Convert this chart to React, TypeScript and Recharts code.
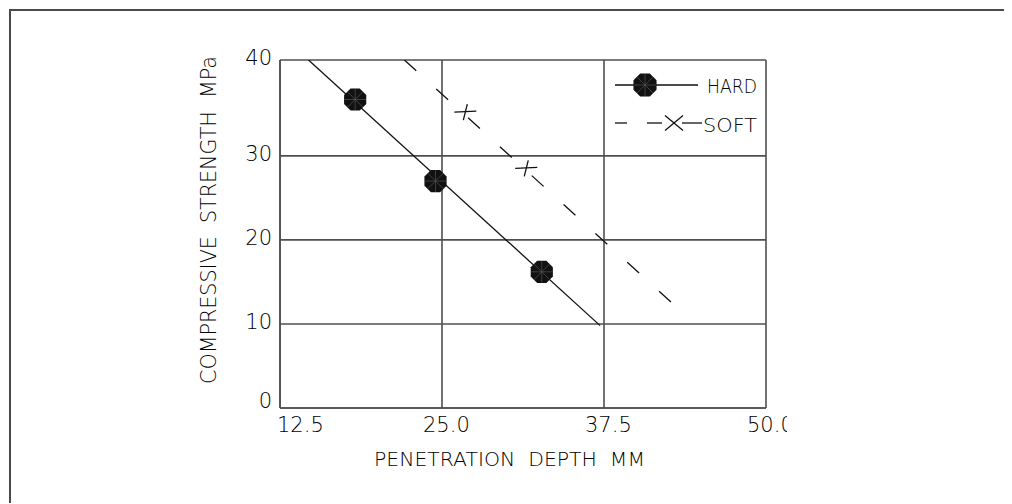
import { CartesianGrid, Scatter, ScatterChart, XAxis, YAxis } from 'recharts'

// measured hard / soft test points (penetration mm, strength MPa)
const hardX = [18.3, 24.5, 32.7]
const hardY = [36.7, 27.0, 16.2]
const hardFitX = [14.7, 37.2]
const hardFitY = [41.4, 9.8]

const softX = [26.8, 31.5]
const softY = [35.2, 28.5]
const softFitX = [22.1, 43.1]
const softFitY = [41.4, 12.0]

const xTicks = [12.5, 25, 37.5, 50]
const xTickLabels = ['12.5', '25.0', '37.5', '50.0']
const yTicks = [0, 10, 20, 30, 41.4]
const yTickLabels = ['0', '10', '20', '30', '40']

const xTitle = 'PENETRATION  DEPTH  MM'
const yTitle = 'COMPRESSIVE  STRENGTH  MPa'

const toPoints = (xs: number[], ys: number[]) => xs.map((x, i) => ({ x, y: ys[i] }))

const hardPoints = toPoints(hardX, hardY)
const hardFit = toPoints(hardFitX, hardFitY)
const softPoints = toPoints(softX, softY)
const softFit = toPoints(softFitX, softFitY)

const W = 1001
const H = 493
const FONT = 'DejaVu Sans'
const WEIGHT = 300
const INK = '#000'
const GRID = '#4f4f4f'

function Octagon({ cx, cy, r = 12 }: { cx: number; cy: number; r?: number }) {
  const pts = Array.from({ length: 8 }, (_, i) => {
    const a = (Math.PI / 8) * (2 * i + 1)
    return `${cx + r * Math.cos(a)},${cy + r * Math.sin(a)}`
  }).join(' ')
  const spokes = Array.from({ length: 4 }, (_, i) => {
    const a = (Math.PI / 4) * i
    return (
      <line
        key={i}
        x1={cx - r * 0.9 * Math.cos(a)}
        y1={cy - r * 0.9 * Math.sin(a)}
        x2={cx + r * 0.9 * Math.cos(a)}
        y2={cy + r * 0.9 * Math.sin(a)}
        stroke="#555"
        strokeWidth={0.7}
      />
    )
  })
  return (
    <g>
      <polygon points={pts} fill="#111" />
      {spokes}
    </g>
  )
}

function Cross({ cx, cy }: { cx: number; cy: number }) {
  return (
    <g stroke="#111" strokeWidth={1.3}>
      <line x1={cx - 11} y1={cy} x2={cx + 11} y2={cy - 1} />
      <line x1={cx - 2} y1={cy + 8} x2={cx + 2} y2={cy - 8} />
    </g>
  )
}

const XTick = (props: any) => {
  const { x, y, payload } = props
  const i = xTicks.indexOf(payload.value)
  const dx = i === 0 ? -3 : -19
  return (
    <g>
      <defs>
        <clipPath id="xtick-clip">
          <rect x={0} y={0} width={776} height={H} />
        </clipPath>
      </defs>
      <text
        x={x + dx}
        y={y + 24}
        textAnchor="start"
        fontFamily={FONT}
        fontWeight={WEIGHT}
        fontSize={21}
        fill={INK}
        clipPath="url(#xtick-clip)"
      >
        {xTickLabels[i]}
      </text>
    </g>
  )
}

const YTick = (props: any) => {
  const { x, y, payload } = props
  const i = yTicks.indexOf(payload.value)
  const dy = i === 0 ? -7 : -2
  return (
    <text
      x={x - 8}
      y={y + dy}
      textAnchor="end"
      dominantBaseline="central"
      fontFamily={FONT}
      fontWeight={WEIGHT}
      fontSize={21}
      fill={INK}
    >
      {yTickLabels[i]}
    </text>
  )
}

function LegendOverlay() {
  return (
    <svg
      width={W}
      height={H}
      style={{ position: 'absolute', left: 0, top: 0, pointerEvents: 'none' }}
    >
      <g stroke="#111" strokeWidth={1.3}>
        <line x1={604} y1={74} x2={687} y2={74} />
        <line x1={604} y1={112} x2={616} y2={112} />
        <line x1={636} y1={112} x2={651} y2={112} />
        <line x1={671} y1={112} x2={691} y2={112} />
        <line x1={654} y1={104.5} x2={672} y2={119.5} />
        <line x1={654} y1={119.5} x2={672} y2={104.5} />
      </g>
      <Octagon cx={634} cy={74} r={12.5} />
      <text x={696} y={82} fontFamily={FONT} fontWeight={WEIGHT} fontSize={20} fill={INK} textLength={50} lengthAdjust="spacingAndGlyphs">
        HARD
      </text>
      <text x={692} y={121} fontFamily={FONT} fontWeight={WEIGHT} fontSize={20} fill={INK} textLength={54} lengthAdjust="spacingAndGlyphs">
        SOFT
      </text>
      <text
        x={498.5}
        y={455}
        textAnchor="middle"
        fontFamily={FONT}
        fontWeight={WEIGHT}
        fontSize={20}
        fill={INK}
        textLength={271}
        lengthAdjust="spacingAndGlyphs"
        style={{ whiteSpace: 'pre' }}
      >
        {xTitle}
      </text>
      <text
        transform="translate(205,209) rotate(-90)"
        textAnchor="middle"
        fontFamily={FONT}
        fontWeight={WEIGHT}
        fontSize={20.5}
        fill={INK}
        textLength={328}
        lengthAdjust="spacingAndGlyphs"
        style={{ whiteSpace: 'pre' }}
      >
        {yTitle}
      </text>
    </svg>
  )
}

export default function App() {
  return (
    <div
      style={{
        position: 'relative',
        top: 1,
        left: 1,
        width: W,
        height: H,
        borderTop: '2px solid #4a4a4a',
        borderLeft: '2px solid #4a4a4a',
        background: '#fff',
      }}
    >
      <ScatterChart width={W} height={H} margin={{ top: 49, right: 246, bottom: 36, left: 209 }}>
        <CartesianGrid stroke={GRID} strokeWidth={1.6} />
        <XAxis
          type="number"
          dataKey="x"
          domain={[12.5, 50]}
          ticks={xTicks}
          height={60}
          tickLine={false}
          tickSize={0}
          tickMargin={0}
          axisLine={{ stroke: GRID, strokeWidth: 1.6 }}
          tick={<XTick />}
          interval={0}
          allowDataOverflow
        />
        <YAxis
          type="number"
          dataKey="y"
          domain={[0, 41.4]}
          ticks={yTicks}
          width={60}
          tickLine={false}
          tickSize={0}
          tickMargin={0}
          axisLine={{ stroke: GRID, strokeWidth: 1.6 }}
          tick={<YTick />}
          interval={0}
          allowDataOverflow
        />
        <Scatter
          data={hardFit}
          line={{ stroke: '#111', strokeWidth: 1.3 }}
          lineType="joint"
          shape={() => <g />}
          isAnimationActive={false}
        />
        <Scatter
          data={softFit}
          line={{ stroke: '#111', strokeWidth: 1.3, strokeDasharray: '16 27' }}
          lineType="joint"
          shape={() => <g />}
          isAnimationActive={false}
        />
        <Scatter
          data={hardPoints}
          shape={(p: any) => <Octagon cx={p.cx} cy={p.cy} r={12} />}
          isAnimationActive={false}
        />
        <Scatter
          data={softPoints}
          shape={(p: any) => <Cross cx={p.cx} cy={p.cy} />}
          isAnimationActive={false}
        />
      </ScatterChart>
      <LegendOverlay />
    </div>
  )
}
